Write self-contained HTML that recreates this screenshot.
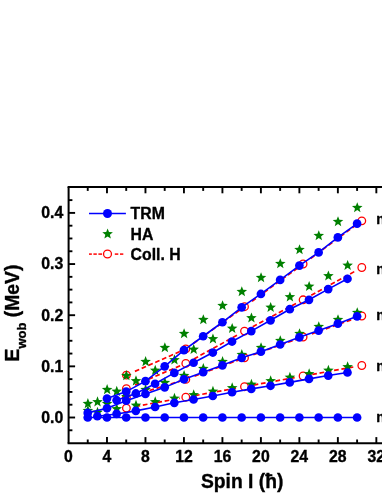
<!DOCTYPE html>
<html><head><meta charset="utf-8"><title>E_wob vs Spin</title>
<style>
html,body{margin:0;padding:0;background:#fff;}
body{width:382px;height:494px;overflow:hidden;position:relative;font-family:"Liberation Sans",sans-serif;}
</style></head><body>
<svg width="382" height="494" viewBox="0 0 382 494" style="position:absolute;left:0;top:0;transform:translateZ(0);will-change:transform">
<path d="M135.55 406.41 L179.90 398.28" fill="none" stroke="#ff0000" stroke-width="1.7" stroke-dasharray="4.7 2.7"/>
<path d="M194.96 395.56 L238.59 387.76" fill="none" stroke="#ff0000" stroke-width="1.7" stroke-dasharray="4.7 2.7"/>
<path d="M253.65 385.04 L297.20 377.09" fill="none" stroke="#ff0000" stroke-width="1.7" stroke-dasharray="4.7 2.7"/>
<path d="M312.25 374.37 L355.89 366.54" fill="none" stroke="#ff0000" stroke-width="1.7" stroke-dasharray="4.7 2.7"/>
<path d="M135.29 394.83 L180.06 381.15" fill="none" stroke="#ff0000" stroke-width="1.7" stroke-dasharray="4.7 2.7"/>
<path d="M194.53 376.18 L238.87 359.88" fill="none" stroke="#ff0000" stroke-width="1.7" stroke-dasharray="4.7 2.7"/>
<path d="M253.26 354.69 L297.45 339.00" fill="none" stroke="#ff0000" stroke-width="1.7" stroke-dasharray="4.7 2.7"/>
<path d="M311.86 333.86 L356.15 318.04" fill="none" stroke="#ff0000" stroke-width="1.7" stroke-dasharray="4.7 2.7"/>
<path d="M134.96 384.97 L180.28 365.73" fill="none" stroke="#ff0000" stroke-width="1.7" stroke-dasharray="4.7 2.7"/>
<path d="M193.95 358.90 L239.24 334.00" fill="none" stroke="#ff0000" stroke-width="1.7" stroke-dasharray="4.7 2.7"/>
<path d="M252.70 326.73 L297.81 302.63" fill="none" stroke="#ff0000" stroke-width="1.7" stroke-dasharray="4.7 2.7"/>
<path d="M311.25 295.32 L356.54 270.37" fill="none" stroke="#ff0000" stroke-width="1.7" stroke-dasharray="4.7 2.7"/>
<path d="M134.91 371.35 L180.31 351.38" fill="none" stroke="#ff0000" stroke-width="1.7" stroke-dasharray="4.7 2.7"/>
<path d="M193.35 343.53 L239.63 310.21" fill="none" stroke="#ff0000" stroke-width="1.7" stroke-dasharray="4.7 2.7"/>
<path d="M252.02 301.23 L298.25 267.53" fill="none" stroke="#ff0000" stroke-width="1.7" stroke-dasharray="4.7 2.7"/>
<path d="M310.59 258.49 L356.97 224.38" fill="none" stroke="#ff0000" stroke-width="1.7" stroke-dasharray="4.7 2.7"/>
<circle cx="126.40" cy="408.09" r="3.8" fill="#fff" stroke="#ff0000" stroke-width="1.3"/>
<circle cx="185.80" cy="397.19" r="3.8" fill="#fff" stroke="#ff0000" stroke-width="1.3"/>
<circle cx="244.50" cy="386.71" r="3.8" fill="#fff" stroke="#ff0000" stroke-width="1.3"/>
<circle cx="303.10" cy="376.02" r="3.8" fill="#fff" stroke="#ff0000" stroke-width="1.3"/>
<circle cx="361.80" cy="365.48" r="3.8" fill="#fff" stroke="#ff0000" stroke-width="1.3"/>
<circle cx="126.40" cy="397.55" r="3.8" fill="#fff" stroke="#ff0000" stroke-width="1.3"/>
<circle cx="185.80" cy="379.39" r="3.8" fill="#fff" stroke="#ff0000" stroke-width="1.3"/>
<circle cx="244.50" cy="357.81" r="3.8" fill="#fff" stroke="#ff0000" stroke-width="1.3"/>
<circle cx="303.10" cy="336.99" r="3.8" fill="#fff" stroke="#ff0000" stroke-width="1.3"/>
<circle cx="361.80" cy="316.02" r="3.8" fill="#fff" stroke="#ff0000" stroke-width="1.3"/>
<circle cx="126.40" cy="388.60" r="3.8" fill="#fff" stroke="#ff0000" stroke-width="1.3"/>
<circle cx="185.80" cy="363.38" r="3.8" fill="#fff" stroke="#ff0000" stroke-width="1.3"/>
<circle cx="244.50" cy="331.11" r="3.8" fill="#fff" stroke="#ff0000" stroke-width="1.3"/>
<circle cx="303.10" cy="299.80" r="3.8" fill="#fff" stroke="#ff0000" stroke-width="1.3"/>
<circle cx="361.80" cy="267.48" r="3.8" fill="#fff" stroke="#ff0000" stroke-width="1.3"/>
<circle cx="126.40" cy="375.10" r="3.8" fill="#fff" stroke="#ff0000" stroke-width="1.3"/>
<circle cx="185.80" cy="348.96" r="3.8" fill="#fff" stroke="#ff0000" stroke-width="1.3"/>
<circle cx="244.50" cy="306.71" r="3.8" fill="#fff" stroke="#ff0000" stroke-width="1.3"/>
<circle cx="303.10" cy="264.00" r="3.8" fill="#fff" stroke="#ff0000" stroke-width="1.3"/>
<circle cx="361.80" cy="220.83" r="3.8" fill="#fff" stroke="#ff0000" stroke-width="1.3"/>
<polygon points="97.51,406.85 98.91,410.47 102.79,410.69 99.78,413.14 100.77,416.89 97.51,414.79 94.25,416.89 95.24,413.14 92.23,410.69 96.11,410.47" fill="#008000"/>
<polygon points="116.75,403.35 118.15,406.97 122.03,407.19 119.02,409.64 120.01,413.39 116.75,411.29 113.49,413.39 114.48,409.64 111.47,407.19 115.35,406.97" fill="#008000"/>
<polygon points="135.99,399.85 137.39,403.47 141.27,403.69 138.26,406.14 139.25,409.89 135.99,407.79 132.73,409.89 133.72,406.14 130.71,403.69 134.59,403.47" fill="#008000"/>
<polygon points="155.23,396.36 156.63,399.98 160.51,400.19 157.50,402.64 158.49,406.40 155.23,404.29 151.97,406.40 152.96,402.64 149.95,400.19 153.83,399.98" fill="#008000"/>
<polygon points="174.47,392.86 175.87,396.48 179.75,396.69 176.74,399.14 177.73,402.90 174.47,400.79 171.21,402.90 172.20,399.14 169.19,396.69 173.07,396.48" fill="#008000"/>
<polygon points="193.71,389.36 195.11,392.98 198.99,393.19 195.98,395.65 196.97,399.40 193.71,397.30 190.45,399.40 191.44,395.65 188.43,393.19 192.31,392.98" fill="#008000"/>
<polygon points="212.95,385.86 214.35,389.48 218.23,389.70 215.22,392.15 216.21,395.90 212.95,393.80 209.69,395.90 210.68,392.15 207.67,389.70 211.55,389.48" fill="#008000"/>
<polygon points="232.19,382.36 233.59,385.98 237.47,386.20 234.46,388.65 235.45,392.40 232.19,390.30 228.93,392.40 229.92,388.65 226.91,386.20 230.79,385.98" fill="#008000"/>
<polygon points="251.43,378.86 252.83,382.48 256.71,382.70 253.70,385.15 254.69,388.90 251.43,386.80 248.17,388.90 249.16,385.15 246.15,382.70 250.03,382.48" fill="#008000"/>
<polygon points="270.67,375.36 272.07,378.98 275.95,379.20 272.94,381.65 273.93,385.40 270.67,383.30 267.41,385.40 268.40,381.65 265.39,379.20 269.27,378.98" fill="#008000"/>
<polygon points="289.91,371.87 291.31,375.48 295.19,375.70 292.18,378.15 293.17,381.91 289.91,379.80 286.65,381.91 287.64,378.15 284.63,375.70 288.51,375.48" fill="#008000"/>
<polygon points="309.15,368.37 310.55,371.99 314.43,372.20 311.42,374.65 312.41,378.41 309.15,376.30 305.89,378.41 306.88,374.65 303.87,372.20 307.75,371.99" fill="#008000"/>
<polygon points="328.39,364.87 329.79,368.49 333.67,368.70 330.66,371.16 331.65,374.91 328.39,372.80 325.13,374.91 326.12,371.16 323.11,368.70 326.99,368.49" fill="#008000"/>
<polygon points="347.63,361.37 349.03,364.99 352.91,365.20 349.90,367.66 350.89,371.41 347.63,369.31 344.37,371.41 345.36,367.66 342.35,365.20 346.23,364.99" fill="#008000"/>
<polygon points="87.89,405.10 89.29,408.72 93.17,408.94 90.16,411.39 91.15,415.14 87.89,413.04 84.63,415.14 85.62,411.39 82.61,408.94 86.49,408.72" fill="#008000"/>
<polygon points="107.13,398.11 108.53,401.72 112.41,401.94 109.40,404.39 110.39,408.15 107.13,406.04 103.87,408.15 104.86,404.39 101.85,401.94 105.73,401.72" fill="#008000"/>
<polygon points="126.37,391.11 127.77,394.73 131.65,394.94 128.64,397.40 129.63,401.15 126.37,399.04 123.11,401.15 124.10,397.40 121.09,394.94 124.97,394.73" fill="#008000"/>
<polygon points="145.61,384.11 147.01,387.73 150.89,387.95 147.88,390.40 148.87,394.15 145.61,392.05 142.35,394.15 143.34,390.40 140.33,387.95 144.21,387.73" fill="#008000"/>
<polygon points="164.85,377.11 166.25,380.73 170.13,380.95 167.12,383.40 168.11,387.15 164.85,385.05 161.59,387.15 162.58,383.40 159.57,380.95 163.45,380.73" fill="#008000"/>
<polygon points="184.09,370.12 185.49,373.74 189.37,373.95 186.36,376.40 187.35,380.16 184.09,378.05 180.83,380.16 181.82,376.40 178.81,373.95 182.69,373.74" fill="#008000"/>
<polygon points="203.33,363.12 204.73,366.74 208.61,366.95 205.60,369.41 206.59,373.16 203.33,371.06 200.07,373.16 201.06,369.41 198.05,366.95 201.93,366.74" fill="#008000"/>
<polygon points="222.57,356.12 223.97,359.74 227.85,359.96 224.84,362.41 225.83,366.16 222.57,364.06 219.31,366.16 220.30,362.41 217.29,359.96 221.17,359.74" fill="#008000"/>
<polygon points="241.81,349.12 243.21,352.74 247.09,352.96 244.08,355.41 245.07,359.16 241.81,357.06 238.55,359.16 239.54,355.41 236.53,352.96 240.41,352.74" fill="#008000"/>
<polygon points="261.05,342.13 262.45,345.75 266.33,345.96 263.32,348.41 264.31,352.17 261.05,350.06 257.79,352.17 258.78,348.41 255.77,345.96 259.65,345.75" fill="#008000"/>
<polygon points="280.29,335.13 281.69,338.75 285.57,338.96 282.56,341.42 283.55,345.17 280.29,343.07 277.03,345.17 278.02,341.42 275.01,338.96 278.89,338.75" fill="#008000"/>
<polygon points="299.53,328.13 300.93,331.75 304.81,331.97 301.80,334.42 302.79,338.17 299.53,336.07 296.27,338.17 297.26,334.42 294.25,331.97 298.13,331.75" fill="#008000"/>
<polygon points="318.77,321.13 320.17,324.75 324.05,324.97 321.04,327.42 322.03,331.17 318.77,329.07 315.51,331.17 316.50,327.42 313.49,324.97 317.37,324.75" fill="#008000"/>
<polygon points="338.01,314.14 339.41,317.76 343.29,317.97 340.28,320.42 341.27,324.18 338.01,322.07 334.75,324.18 335.74,320.42 332.73,317.97 336.61,317.76" fill="#008000"/>
<polygon points="357.25,307.14 358.65,310.76 362.53,310.98 359.52,313.43 360.51,317.18 357.25,315.08 353.99,317.18 354.98,313.43 351.97,310.98 355.85,310.76" fill="#008000"/>
<polygon points="97.51,396.36 98.91,399.98 102.79,400.19 99.78,402.64 100.77,406.40 97.51,404.29 94.25,406.40 95.24,402.64 92.23,400.19 96.11,399.98" fill="#008000"/>
<polygon points="116.75,385.86 118.15,389.48 122.03,389.70 119.02,392.15 120.01,395.90 116.75,393.80 113.49,395.90 114.48,392.15 111.47,389.70 115.35,389.48" fill="#008000"/>
<polygon points="135.99,375.36 137.39,378.98 141.27,379.20 138.26,381.65 139.25,385.40 135.99,383.30 132.73,385.40 133.72,381.65 130.71,379.20 134.59,378.98" fill="#008000"/>
<polygon points="155.23,364.87 156.63,368.49 160.51,368.70 157.50,371.16 158.49,374.91 155.23,372.80 151.97,374.91 152.96,371.16 149.95,368.70 153.83,368.49" fill="#008000"/>
<polygon points="174.47,354.37 175.87,357.99 179.75,358.21 176.74,360.66 177.73,364.41 174.47,362.31 171.21,364.41 172.20,360.66 169.19,358.21 173.07,357.99" fill="#008000"/>
<polygon points="193.71,343.88 195.11,347.50 198.99,347.71 195.98,350.16 196.97,353.92 193.71,351.81 190.45,353.92 191.44,350.16 188.43,347.71 192.31,347.50" fill="#008000"/>
<polygon points="212.95,333.38 214.35,337.00 218.23,337.22 215.22,339.67 216.21,343.42 212.95,341.32 209.69,343.42 210.68,339.67 207.67,337.22 211.55,337.00" fill="#008000"/>
<polygon points="232.19,322.88 233.59,326.50 237.47,326.72 234.46,329.17 235.45,332.92 232.19,330.82 228.93,332.92 229.92,329.17 226.91,326.72 230.79,326.50" fill="#008000"/>
<polygon points="251.43,312.39 252.83,316.01 256.71,316.22 253.70,318.68 254.69,322.43 251.43,320.32 248.17,322.43 249.16,318.68 246.15,316.22 250.03,316.01" fill="#008000"/>
<polygon points="270.67,301.89 272.07,305.51 275.95,305.73 272.94,308.18 273.93,311.93 270.67,309.83 267.41,311.93 268.40,308.18 265.39,305.73 269.27,305.51" fill="#008000"/>
<polygon points="289.91,291.40 291.31,295.02 295.19,295.23 292.18,297.68 293.17,301.44 289.91,299.33 286.65,301.44 287.64,297.68 284.63,295.23 288.51,295.02" fill="#008000"/>
<polygon points="309.15,280.90 310.55,284.52 314.43,284.74 311.42,287.19 312.41,290.94 309.15,288.84 305.89,290.94 306.88,287.19 303.87,284.74 307.75,284.52" fill="#008000"/>
<polygon points="328.39,270.40 329.79,274.02 333.67,274.24 330.66,276.69 331.65,280.44 328.39,278.34 325.13,280.44 326.12,276.69 323.11,274.24 326.99,274.02" fill="#008000"/>
<polygon points="347.63,259.91 349.03,263.53 352.91,263.74 349.90,266.20 350.89,269.95 347.63,267.84 344.37,269.95 345.36,266.20 342.35,263.74 346.23,263.53" fill="#008000"/>
<polygon points="87.89,398.11 89.29,401.72 93.17,401.94 90.16,404.39 91.15,408.15 87.89,406.04 84.63,408.15 85.62,404.39 82.61,401.94 86.49,401.72" fill="#008000"/>
<polygon points="107.13,384.11 108.53,387.73 112.41,387.95 109.40,390.40 110.39,394.15 107.13,392.05 103.87,394.15 104.86,390.40 101.85,387.95 105.73,387.73" fill="#008000"/>
<polygon points="126.37,370.12 127.77,373.74 131.65,373.95 128.64,376.40 129.63,380.16 126.37,378.05 123.11,380.16 124.10,376.40 121.09,373.95 124.97,373.74" fill="#008000"/>
<polygon points="145.61,356.12 147.01,359.74 150.89,359.96 147.88,362.41 148.87,366.16 145.61,364.06 142.35,366.16 143.34,362.41 140.33,359.96 144.21,359.74" fill="#008000"/>
<polygon points="164.85,342.13 166.25,345.75 170.13,345.96 167.12,348.41 168.11,352.17 164.85,350.06 161.59,352.17 162.58,348.41 159.57,345.96 163.45,345.75" fill="#008000"/>
<polygon points="184.09,328.13 185.49,331.75 189.37,331.97 186.36,334.42 187.35,338.17 184.09,336.07 180.83,338.17 181.82,334.42 178.81,331.97 182.69,331.75" fill="#008000"/>
<polygon points="203.33,314.14 204.73,317.76 208.61,317.97 205.60,320.42 206.59,324.18 203.33,322.07 200.07,324.18 201.06,320.42 198.05,317.97 201.93,317.76" fill="#008000"/>
<polygon points="222.57,300.14 223.97,303.76 227.85,303.98 224.84,306.43 225.83,310.18 222.57,308.08 219.31,310.18 220.30,306.43 217.29,303.98 221.17,303.76" fill="#008000"/>
<polygon points="241.81,286.15 243.21,289.77 247.09,289.98 244.08,292.44 245.07,296.19 241.81,294.08 238.55,296.19 239.54,292.44 236.53,289.98 240.41,289.77" fill="#008000"/>
<polygon points="261.05,272.15 262.45,275.77 266.33,275.99 263.32,278.44 264.31,282.19 261.05,280.09 257.79,282.19 258.78,278.44 255.77,275.99 259.65,275.77" fill="#008000"/>
<polygon points="280.29,258.16 281.69,261.78 285.57,261.99 282.56,264.45 283.55,268.20 280.29,266.10 277.03,268.20 278.02,264.45 275.01,261.99 278.89,261.78" fill="#008000"/>
<polygon points="299.53,244.16 300.93,247.78 304.81,248.00 301.80,250.45 302.79,254.20 299.53,252.10 296.27,254.20 297.26,250.45 294.25,248.00 298.13,247.78" fill="#008000"/>
<polygon points="318.77,230.17 320.17,233.79 324.05,234.00 321.04,236.46 322.03,240.21 318.77,238.11 315.51,240.21 316.50,236.46 313.49,234.00 317.37,233.79" fill="#008000"/>
<polygon points="338.01,216.18 339.41,219.79 343.29,220.01 340.28,222.46 341.27,226.22 338.01,224.11 334.75,226.22 335.74,222.46 332.73,220.01 336.61,219.79" fill="#008000"/>
<polygon points="357.25,202.18 358.65,205.80 362.53,206.02 359.52,208.47 360.51,212.22 357.25,210.12 353.99,212.22 354.98,208.47 351.97,206.02 355.85,205.80" fill="#008000"/>
<polyline points="87.74,417.50 106.98,417.50 126.22,417.50 145.46,417.50 164.70,417.50 183.94,417.50 203.18,417.50 222.42,417.50 241.66,417.50 260.90,417.50 280.14,417.50 299.38,417.50 318.62,417.50 337.86,417.50 357.10,417.50" fill="none" stroke="#0000ff" stroke-width="1.6"/>
<polyline points="97.36,416.22 116.60,413.92 135.84,410.85 155.08,407.01 174.32,402.82 193.56,399.50 212.80,396.02 232.04,392.23 251.28,388.91 270.52,385.79 289.76,382.41 309.00,378.88 328.24,375.56 347.48,372.49" fill="none" stroke="#0000ff" stroke-width="1.6"/>
<polyline points="87.74,412.90 106.98,408.29 126.22,400.72 145.46,393.97 164.70,387.37 183.94,379.29 203.18,372.18 222.42,365.33 241.66,357.81 260.90,351.67 280.14,344.51 299.38,337.30 318.62,330.60 337.86,323.64 357.10,316.33" fill="none" stroke="#0000ff" stroke-width="1.6"/>
<polyline points="116.60,400.21 135.84,393.46 155.08,383.74 174.32,372.90 193.56,362.77 212.80,352.54 232.04,341.54 251.28,331.11 270.52,320.31 289.76,309.22 309.00,299.80 328.24,289.11 347.48,278.78" fill="none" stroke="#0000ff" stroke-width="1.6"/>
<polyline points="106.98,398.57 126.22,391.62 145.46,381.18 164.70,366.35 183.94,350.19 203.18,336.27 222.42,322.26 241.66,307.32 260.90,293.97 280.14,279.91 299.38,265.58 318.62,252.39 337.86,237.45 357.10,223.64" fill="none" stroke="#0000ff" stroke-width="1.6"/>
<circle cx="87.74" cy="417.50" r="4.35" fill="#0000ff"/>
<circle cx="106.98" cy="417.50" r="4.35" fill="#0000ff"/>
<circle cx="126.22" cy="417.50" r="4.35" fill="#0000ff"/>
<circle cx="145.46" cy="417.50" r="4.35" fill="#0000ff"/>
<circle cx="164.70" cy="417.50" r="4.35" fill="#0000ff"/>
<circle cx="183.94" cy="417.50" r="4.35" fill="#0000ff"/>
<circle cx="203.18" cy="417.50" r="4.35" fill="#0000ff"/>
<circle cx="222.42" cy="417.50" r="4.35" fill="#0000ff"/>
<circle cx="241.66" cy="417.50" r="4.35" fill="#0000ff"/>
<circle cx="260.90" cy="417.50" r="4.35" fill="#0000ff"/>
<circle cx="280.14" cy="417.50" r="4.35" fill="#0000ff"/>
<circle cx="299.38" cy="417.50" r="4.35" fill="#0000ff"/>
<circle cx="318.62" cy="417.50" r="4.35" fill="#0000ff"/>
<circle cx="337.86" cy="417.50" r="4.35" fill="#0000ff"/>
<circle cx="357.10" cy="417.50" r="4.35" fill="#0000ff"/>
<circle cx="97.36" cy="416.22" r="4.35" fill="#0000ff"/>
<circle cx="116.60" cy="413.92" r="4.35" fill="#0000ff"/>
<circle cx="135.84" cy="410.85" r="4.35" fill="#0000ff"/>
<circle cx="155.08" cy="407.01" r="4.35" fill="#0000ff"/>
<circle cx="174.32" cy="402.82" r="4.35" fill="#0000ff"/>
<circle cx="193.56" cy="399.50" r="4.35" fill="#0000ff"/>
<circle cx="212.80" cy="396.02" r="4.35" fill="#0000ff"/>
<circle cx="232.04" cy="392.23" r="4.35" fill="#0000ff"/>
<circle cx="251.28" cy="388.91" r="4.35" fill="#0000ff"/>
<circle cx="270.52" cy="385.79" r="4.35" fill="#0000ff"/>
<circle cx="289.76" cy="382.41" r="4.35" fill="#0000ff"/>
<circle cx="309.00" cy="378.88" r="4.35" fill="#0000ff"/>
<circle cx="328.24" cy="375.56" r="4.35" fill="#0000ff"/>
<circle cx="347.48" cy="372.49" r="4.35" fill="#0000ff"/>
<circle cx="87.74" cy="412.90" r="4.35" fill="#0000ff"/>
<circle cx="106.98" cy="408.29" r="4.35" fill="#0000ff"/>
<circle cx="126.22" cy="400.72" r="4.35" fill="#0000ff"/>
<circle cx="145.46" cy="393.97" r="4.35" fill="#0000ff"/>
<circle cx="164.70" cy="387.37" r="4.35" fill="#0000ff"/>
<circle cx="183.94" cy="379.29" r="4.35" fill="#0000ff"/>
<circle cx="203.18" cy="372.18" r="4.35" fill="#0000ff"/>
<circle cx="222.42" cy="365.33" r="4.35" fill="#0000ff"/>
<circle cx="241.66" cy="357.81" r="4.35" fill="#0000ff"/>
<circle cx="260.90" cy="351.67" r="4.35" fill="#0000ff"/>
<circle cx="280.14" cy="344.51" r="4.35" fill="#0000ff"/>
<circle cx="299.38" cy="337.30" r="4.35" fill="#0000ff"/>
<circle cx="318.62" cy="330.60" r="4.35" fill="#0000ff"/>
<circle cx="337.86" cy="323.64" r="4.35" fill="#0000ff"/>
<circle cx="357.10" cy="316.33" r="4.35" fill="#0000ff"/>
<circle cx="116.60" cy="400.21" r="4.35" fill="#0000ff"/>
<circle cx="135.84" cy="393.46" r="4.35" fill="#0000ff"/>
<circle cx="155.08" cy="383.74" r="4.35" fill="#0000ff"/>
<circle cx="174.32" cy="372.90" r="4.35" fill="#0000ff"/>
<circle cx="193.56" cy="362.77" r="4.35" fill="#0000ff"/>
<circle cx="212.80" cy="352.54" r="4.35" fill="#0000ff"/>
<circle cx="232.04" cy="341.54" r="4.35" fill="#0000ff"/>
<circle cx="251.28" cy="331.11" r="4.35" fill="#0000ff"/>
<circle cx="270.52" cy="320.31" r="4.35" fill="#0000ff"/>
<circle cx="289.76" cy="309.22" r="4.35" fill="#0000ff"/>
<circle cx="309.00" cy="299.80" r="4.35" fill="#0000ff"/>
<circle cx="328.24" cy="289.11" r="4.35" fill="#0000ff"/>
<circle cx="347.48" cy="278.78" r="4.35" fill="#0000ff"/>
<circle cx="106.98" cy="398.57" r="4.35" fill="#0000ff"/>
<circle cx="126.22" cy="391.62" r="4.35" fill="#0000ff"/>
<circle cx="145.46" cy="381.18" r="4.35" fill="#0000ff"/>
<circle cx="164.70" cy="366.35" r="4.35" fill="#0000ff"/>
<circle cx="183.94" cy="350.19" r="4.35" fill="#0000ff"/>
<circle cx="203.18" cy="336.27" r="4.35" fill="#0000ff"/>
<circle cx="222.42" cy="322.26" r="4.35" fill="#0000ff"/>
<circle cx="241.66" cy="307.32" r="4.35" fill="#0000ff"/>
<circle cx="260.90" cy="293.97" r="4.35" fill="#0000ff"/>
<circle cx="280.14" cy="279.91" r="4.35" fill="#0000ff"/>
<circle cx="299.38" cy="265.58" r="4.35" fill="#0000ff"/>
<circle cx="318.62" cy="252.39" r="4.35" fill="#0000ff"/>
<circle cx="337.86" cy="237.45" r="4.35" fill="#0000ff"/>
<circle cx="357.10" cy="223.64" r="4.35" fill="#0000ff"/>
<g stroke="#000" stroke-width="2.0" fill="none">
<path d="M67.60 187.10 H383"/>
<path d="M67.60 443.30 H383"/>
<path d="M68.60 187.10 V443.30"/>
</g>
<g stroke="#000" stroke-width="1.9" fill="none">
<path d="M87.74 443.30 v-3.80"/>
<path d="M87.74 187.10 v3.80"/>
<path d="M106.98 443.30 v-6.20"/>
<path d="M106.98 187.10 v6.20"/>
<path d="M126.22 443.30 v-3.80"/>
<path d="M126.22 187.10 v3.80"/>
<path d="M145.46 443.30 v-6.20"/>
<path d="M145.46 187.10 v6.20"/>
<path d="M164.70 443.30 v-3.80"/>
<path d="M164.70 187.10 v3.80"/>
<path d="M183.94 443.30 v-6.20"/>
<path d="M183.94 187.10 v6.20"/>
<path d="M203.18 443.30 v-3.80"/>
<path d="M203.18 187.10 v3.80"/>
<path d="M222.42 443.30 v-6.20"/>
<path d="M222.42 187.10 v6.20"/>
<path d="M241.66 443.30 v-3.80"/>
<path d="M241.66 187.10 v3.80"/>
<path d="M260.90 443.30 v-6.20"/>
<path d="M260.90 187.10 v6.20"/>
<path d="M280.14 443.30 v-3.80"/>
<path d="M280.14 187.10 v3.80"/>
<path d="M299.38 443.30 v-6.20"/>
<path d="M299.38 187.10 v6.20"/>
<path d="M318.62 443.30 v-3.80"/>
<path d="M318.62 187.10 v3.80"/>
<path d="M337.86 443.30 v-6.20"/>
<path d="M337.86 187.10 v6.20"/>
<path d="M357.10 443.30 v-3.80"/>
<path d="M357.10 187.10 v3.80"/>
<path d="M376.34 443.30 v-6.20"/>
<path d="M376.34 187.10 v6.20"/>
<path d="M68.60 430.29 h3.80"/>
<path d="M68.60 417.50 h6.50"/>
<path d="M68.60 404.71 h3.80"/>
<path d="M68.60 391.93 h3.80"/>
<path d="M68.60 379.14 h3.80"/>
<path d="M68.60 366.35 h6.50"/>
<path d="M68.60 353.56 h3.80"/>
<path d="M68.60 340.77 h3.80"/>
<path d="M68.60 327.99 h3.80"/>
<path d="M68.60 315.20 h6.50"/>
<path d="M68.60 302.41 h3.80"/>
<path d="M68.60 289.62 h3.80"/>
<path d="M68.60 276.84 h3.80"/>
<path d="M68.60 264.05 h6.50"/>
<path d="M68.60 251.26 h3.80"/>
<path d="M68.60 238.47 h3.80"/>
<path d="M68.60 225.69 h3.80"/>
<path d="M68.60 212.90 h6.50"/>
<path d="M68.60 200.11 h3.80"/>
</g>
<path d="M89.0 213.5 H125.9" stroke="#0000ff" stroke-width="1.6"/>
<circle cx="107.5" cy="213.5" r="4.5" fill="#0000ff"/>
<polygon points="107.60,228.45 109.00,232.07 112.88,232.28 109.87,234.74 110.86,238.49 107.60,236.39 104.34,238.49 105.33,234.74 102.32,232.28 106.20,232.07" fill="#008000"/>
<path d="M89.00 254.1 H91.85" stroke="#ff0000" stroke-width="1.5"/>
<path d="M93.40 254.1 H96.80" stroke="#ff0000" stroke-width="1.5"/>
<path d="M98.40 254.1 H102.10" stroke="#ff0000" stroke-width="1.5"/>
<path d="M114.80 254.1 H118.30" stroke="#ff0000" stroke-width="1.5"/>
<path d="M120.00 254.1 H123.30" stroke="#ff0000" stroke-width="1.5"/>
<circle cx="107.5" cy="254.0" r="3.95" fill="#fff" stroke="#ff0000" stroke-width="1.3"/>
<g font-family="Liberation Sans, sans-serif" font-weight="bold" fill="#000" stroke="#000" stroke-width="0.35" stroke-linejoin="round">
<g font-size="15.8px">
<text x="130.6" y="219.0" font-size="15.8px">TRM</text>
<text x="130.6" y="239.6" font-size="15.8px">HA</text>
<text x="130.6" y="259.5" font-size="15.8px">Coll. H</text>
<text x="63.2" y="422.90" text-anchor="end">0.0</text>
<text x="63.2" y="371.75" text-anchor="end">0.1</text>
<text x="63.2" y="320.60" text-anchor="end">0.2</text>
<text x="63.2" y="269.45" text-anchor="end">0.3</text>
<text x="63.2" y="218.30" text-anchor="end">0.4</text>
<text x="68.50" y="461.7" text-anchor="middle">0</text>
<text x="106.98" y="461.7" text-anchor="middle">4</text>
<text x="145.46" y="461.7" text-anchor="middle">8</text>
<text x="183.94" y="461.7" text-anchor="middle">12</text>
<text x="222.42" y="461.7" text-anchor="middle">16</text>
<text x="260.90" y="461.7" text-anchor="middle">20</text>
<text x="299.38" y="461.7" text-anchor="middle">24</text>
<text x="337.86" y="461.7" text-anchor="middle">28</text>
<text x="376.34" y="461.7" text-anchor="middle">32</text>
</g>
<g font-size="14px">
<text x="376.2" y="224.0">n=4</text>
<text x="376.2" y="274.3">n=3</text>
<text x="376.2" y="319.6">n=2</text>
<text x="376.2" y="370.7">n=1</text>
<text x="376.2" y="422.1">n=0</text>
</g>
<text x="200.9" y="488.4" font-size="19.3px">Spin I (ħ)</text>
<text transform="translate(18.9 361.4) rotate(-90)" font-size="19.3px">E<tspan font-size="13px" dy="7">wob</tspan><tspan dy="-7"> (MeV)</tspan></text>
</g>
</svg>
</body></html>
